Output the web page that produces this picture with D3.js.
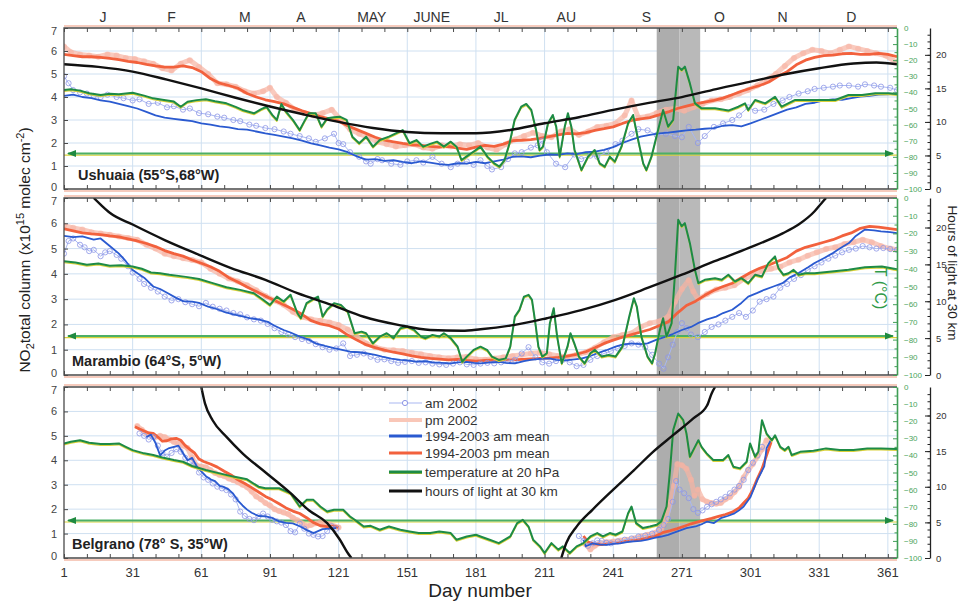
<!DOCTYPE html>
<html>
<head>
<meta charset="utf-8">
<script src="https://cdn.jsdelivr.net/npm/d3@7"></script>
<style>
  body { margin: 0; background: #fff; }
  svg { display: block; font-family: "Liberation Sans", Arial, Helvetica, sans-serif; }
</style>
</head>
<body>
<svg id="chart" width="962" height="601"></svg>
<script>
// ---------------- axis values ----------------
const dayTicks = [1, 31, 61, 91, 121, 151, 181, 211, 241, 271, 301, 331, 361];
const monthNames = ["J", "F", "M", "A", "MAY", "JUNE", "JL", "AU", "S", "O", "N", "D"];
const monthDays = [18, 48, 80, 104.5, 135.5, 161.7, 192, 220.5, 255.5, 287.4, 315, 345];
const no2Ticks = [0, 1, 2, 3, 4, 5, 6, 7];
const tempTicks = [0, -10, -20, -30, -40, -50, -60, -70, -80, -90, -100];
const hourTicks = [0, 5, 10, 15, 20];
const tempThreshold = -78;          // °C, PSC formation threshold
const shadedDays = [260, 270, 279]; // shaded period (two tones)

// ---------------- Ushuaia ----------------
const ushuaiaAm2002 = [[1,4.9],[3,4.6],[5,4.3],[8,4.2],[11,4.15],[14,4.05],[17,4.0],[20,4.1],[24,4.0],[27,3.95],[31,3.85],[34,3.9],[38,3.7],[42,3.75],[46,3.55],[49,3.6],[53,3.45],[56,3.5],[60,3.3],[64,3.25],[68,3.15],[71,3.1],[75,3.0],[78,2.95],[82,2.8],[85,2.75],[89,2.65],[93,2.6],[97,2.5],[100,2.4],[104,2.3],[108,2.2],[111,2.05],[115,2.2],[119,2.4],[121,2.0],[123,1.95],[126,1.6],[130,1.4],[133,1.2],[135,1.1],[138,1.3],[140,1.25],[144,1.1],[148,1.05],[151,1.2],[155,1.25],[158,1.15],[162,1.4],[166,1.1],[170,0.95],[173,1.1],[177,1.2],[180,1.05],[183,1.25],[186,1.0],[188,0.85],[192,0.95],[195,1.3],[198,1.55],[201,1.6],[205,1.8],[208,1.9],[210,2.1],[212,1.6],[216,1.1],[220,0.95],[224,1.5],[227,1.3],[231,1.45],[234,1.4],[238,1.6],[242,1.95],[245,2.1],[249,2.4],[252,2.6],[256,2.55],[260,2.35],[264,2.4],[268,2.3],[271,2.25],[274,2.7],[278,2.0],[281,2.3],[285,2.7],[289,2.85],[293,3.0],[296,3.2],[300,3.55],[303,3.4],[307,3.45],[311,3.7],[315,3.85],[318,4.0],[322,4.15],[326,4.25],[329,4.35],[333,4.4],[337,4.45],[340,4.5],[344,4.5],[348,4.45],[351,4.55],[355,4.5],[358,4.45],[362,4.4],[365,4.3]];
const ushuaiaPm2002 = [[1,6.2],[4,5.95],[8,5.85],[12,5.8],[16,5.75],[20,5.85],[24,5.8],[28,5.7],[32,5.65],[36,5.55],[40,5.45],[44,5.25],[48,5.15],[52,5.45],[56,5.6],[60,5.3],[64,5.0],[68,4.6],[72,4.55],[76,4.45],[80,4.25],[84,4.15],[88,4.25],[91,4.4],[94,4.0],[98,3.75],[102,3.45],[106,3.3],[110,3.2],[114,3.3],[118,3.45],[122,3.0],[126,2.6],[130,2.4],[134,2.25],[138,2.05],[142,1.95],[146,1.85],[150,1.9],[154,1.95],[158,1.8],[162,1.75],[166,1.9],[170,1.85],[174,1.95],[178,1.9],[182,2.0],[186,1.8],[190,1.7],[194,1.95],[198,2.15],[202,2.3],[206,2.45],[210,2.3],[214,2.25],[218,2.5],[222,2.6],[226,2.35],[230,2.5],[234,2.7],[238,2.75],[242,2.85],[246,3.2],[249,3.85],[252,3.1],[256,3.15],[260,3.3],[264,3.45],[268,3.5],[272,3.4],[276,3.55],[280,3.7],[284,3.85],[288,3.9],[292,4.0],[296,4.15],[300,4.3],[304,4.5],[308,4.75],[312,5.0],[316,5.35],[320,5.7],[324,5.9],[328,6.05],[332,6.0],[336,5.9],[340,6.05],[344,6.2],[348,6.1],[352,6.0],[356,5.9],[360,5.8],[365,5.5]];
const ushuaiaAmMean = [[1,4.05],[5,4.1],[9,4.0],[13,3.95],[17,3.85],[21,3.8],[25,3.7],[29,3.6],[33,3.5],[37,3.35],[41,3.2],[45,3.1],[49,3.05],[53,3.0],[57,2.95],[61,2.85],[65,2.8],[69,2.72],[73,2.68],[77,2.6],[81,2.58],[85,2.5],[89,2.42],[93,2.35],[97,2.28],[101,2.2],[105,2.1],[109,1.98],[113,1.9],[117,1.8],[121,1.72],[125,1.6],[129,1.42],[133,1.28],[137,1.3],[141,1.22],[145,1.25],[149,1.18],[153,1.12],[157,1.2],[161,1.15],[165,1.08],[169,1.05],[173,1.12],[177,1.1],[181,1.18],[185,1.12],[189,1.2],[193,1.28],[197,1.4],[201,1.42],[205,1.38],[209,1.45],[213,1.5],[217,1.48],[221,1.55],[225,1.52],[229,1.6],[233,1.62],[237,1.7],[241,1.82],[245,2.0],[249,2.15],[253,2.28],[257,2.35],[261,2.42],[265,2.45],[269,2.5],[273,2.55],[277,2.58],[281,2.62],[285,2.65],[289,2.75],[293,2.78],[297,2.72],[301,2.85],[305,3.0],[309,3.15],[313,3.3],[317,3.45],[321,3.55],[325,3.7],[329,3.75],[333,3.85],[337,3.9],[341,3.88],[345,3.95],[349,4.02],[353,4.05],[357,4.1],[361,4.12],[365,4.15]];
const ushuaiaPmMean = [[1,5.85],[5,5.8],[9,5.75],[13,5.75],[17,5.72],[21,5.68],[25,5.62],[29,5.55],[33,5.5],[37,5.42],[41,5.35],[45,5.3],[49,5.3],[53,5.35],[57,5.28],[61,5.1],[65,4.8],[69,4.6],[73,4.5],[77,4.38],[81,4.15],[85,4.0],[89,3.88],[93,3.8],[97,3.7],[101,3.55],[105,3.4],[109,3.28],[113,3.15],[117,3.05],[121,2.95],[125,2.75],[129,2.58],[133,2.42],[137,2.25],[141,2.12],[145,2.05],[149,1.98],[153,1.92],[157,1.9],[161,1.85],[165,1.82],[169,1.85],[173,1.78],[177,1.72],[181,1.82],[185,1.9],[189,1.85],[193,1.95],[197,2.1],[201,2.12],[205,2.15],[209,2.2],[213,2.28],[217,2.35],[221,2.42],[225,2.4],[229,2.45],[233,2.55],[237,2.62],[241,2.7],[245,2.85],[249,2.98],[253,3.05],[257,3.1],[261,3.22],[265,3.35],[269,3.5],[273,3.6],[277,3.7],[281,3.78],[285,3.85],[289,3.95],[293,4.1],[297,4.25],[301,4.38],[305,4.5],[309,4.65],[313,4.9],[317,5.1],[321,5.4],[325,5.6],[329,5.72],[333,5.8],[337,5.82],[341,5.88],[345,5.9],[349,5.85],[353,5.85],[357,5.9],[361,5.85],[365,5.75]];
const ushuaiaTemp = [[1,-38.5],[4,-38],[8,-38.9],[12,-40.5],[17,-41.6],[21,-40.8],[25,-41.2],[31,-40.2],[36,-42],[40,-43.7],[44,-44.5],[49,-45.7],[52,-48.9],[55,-45.8],[59,-44.8],[63,-44.3],[67,-45.5],[72,-46.8],[76,-49],[79,-50.9],[84,-53],[87,-50.5],[89.5,-48.9],[92,-54],[94,-57.1],[96,-47.2],[98,-52],[101,-57.1],[104,-63.4],[106,-58],[108,-53],[111,-53],[113.5,-61.3],[116,-56.1],[119,-55.5],[121.5,-55.1],[124.5,-57.1],[127,-67.5],[130,-71.6],[133,-67.5],[136,-73.7],[139,-69.6],[143,-67.5],[146,-65.4],[149,-63.4],[152,-71.6],[155,-69.6],[158,-73.7],[161,-72],[164,-70.6],[167,-73.7],[170,-70.6],[172.5,-73.7],[174.7,-82],[176.8,-79.9],[180,-76.8],[183,-73.7],[186,-79.9],[189,-84.1],[191.3,-86.1],[193.5,-82],[195.7,-71.6],[197.9,-57.1],[200.8,-48.9],[203,-47.2],[205.2,-50.9],[207.3,-63.4],[208.8,-75.8],[210.3,-73.7],[212.5,-59.2],[214.6,-54],[216.1,-61.3],[217.6,-79.9],[219.8,-61.3],[221.2,-53],[222.7,-61.3],[224.1,-75.8],[227.1,-88.2],[230,-79.9],[232.9,-75.8],[235.1,-84.1],[237.3,-86.1],[239.5,-79.9],[241.7,-83],[244.6,-73.7],[247.5,-59.2],[249.7,-54],[251.9,-69.6],[254.1,-84.1],[255.5,-88.2],[257.7,-79.9],[260.6,-63.4],[262.8,-50.9],[265,-61.3],[267.2,-57.1],[269.4,-24],[270.9,-26.1],[272.3,-24],[274.5,-34.4],[276.7,-46.8],[279.6,-49.9],[285.5,-49.9],[291.3,-51.3],[295.7,-48.9],[298.6,-46.8],[300,-50.9],[303,-44.7],[307.4,-46.8],[311.7,-42.7],[314.6,-48.9],[320.5,-44.7],[326.3,-44.7],[332.2,-44.7],[338,-44.7],[343.8,-41.6],[349.7,-41.6],[355.5,-40.6],[361.4,-40.6],[365,-41]];
const ushuaiaHours = [[1,18.6],[16,18.2],[31,17.5],[46,16.3],[61,15.0],[76,13.6],[91,12.3],[106,11.1],[121,10.0],[136,9.1],[151,8.5],[166,8.3],[181,8.3],[196,8.8],[211,9.8],[226,10.7],[241,11.8],[256,12.8],[271,13.7],[286,14.9],[301,16.0],[316,17.1],[331,18.0],[346,18.7],[356,18.85],[365,18.6]];

// ---------------- Marambio ----------------
const marambioAm2002 = [[1,4.8],[3,5.3],[5,5.4],[8,5.15],[10,5.05],[12,4.9],[14,4.95],[17,4.7],[19,4.85],[21,4.9],[24,4.75],[26,4.6],[29,4.3],[31,4.05],[34,3.8],[36,3.6],[39,3.45],[42,3.3],[45,3.1],[48,2.95],[51,3.0],[54,2.88],[57,2.8],[60,2.72],[63,2.85],[66,2.7],[69,2.62],[72,2.55],[75,2.45],[78,2.4],[81,2.28],[84,2.2],[87,2.15],[90,2.02],[93,1.85],[96,1.7],[99,1.6],[102,1.5],[105,1.42],[108,1.35],[111,1.22],[114,1.1],[117,1.0],[120,1.05],[123,1.25],[126,0.75],[129,0.8],[132,0.85],[135,0.72],[138,0.6],[141,0.62],[144,0.55],[147,0.48],[150,0.52],[153,0.55],[156,0.48],[159,0.5],[162,0.45],[165,0.42],[168,0.4],[171,0.45],[174,0.5],[177,0.42],[180,0.4],[183,0.45],[186,0.48],[189,0.46],[192,0.5],[195,0.55],[198,0.6],[201,0.85],[204,1.1],[207,0.7],[210,0.5],[213,0.45],[216,0.55],[219,0.6],[222,0.5],[225,0.35],[228,0.4],[231,0.6],[234,0.75],[237,0.85],[240,0.95],[243,1.05],[246,1.15],[249,1.25],[252,1.2],[255,1.1],[258,0.8],[261,0.45],[263,0.25],[265,0.7],[267,1.2],[269,1.7],[271,2.05],[273,1.85],[275,1.6],[278,1.5],[281,1.7],[284,1.9],[287,2.0],[290,2.15],[293,2.3],[296,2.45],[299,2.3],[302,2.55],[305,2.9],[308,3.0],[311,3.1],[314,3.45],[317,3.6],[320,3.8],[323,3.95],[326,4.15],[329,4.3],[332,4.45],[335,4.6],[338,4.72],[341,4.85],[344,4.95],[347,5.0],[350,5.1],[353,5.05],[356,5.0],[359,5.02],[362,4.98],[365,4.95]];
const marambioPm2002 = [[1,5.9],[5,5.82],[9,5.75],[13,5.65],[17,5.6],[21,5.55],[25,5.48],[29,5.42],[33,5.35],[37,5.15],[41,5.0],[45,4.8],[49,4.7],[53,4.62],[57,4.55],[61,4.45],[65,4.2],[69,4.0],[73,3.82],[77,3.7],[81,3.55],[85,3.35],[89,3.12],[93,2.95],[97,2.78],[101,2.5],[105,2.3],[109,2.2],[113,2.15],[117,2.08],[121,1.98],[125,1.8],[129,1.5],[133,1.25],[137,1.1],[141,1.0],[145,0.98],[149,0.95],[153,0.88],[157,0.82],[161,0.75],[165,0.7],[169,0.66],[173,0.7],[177,0.72],[181,0.62],[185,0.6],[189,0.65],[193,0.7],[197,0.75],[201,0.8],[205,0.85],[209,0.88],[213,0.82],[217,0.75],[221,0.72],[225,0.8],[229,0.9],[233,1.08],[237,1.3],[241,1.5],[245,1.58],[249,1.65],[253,1.9],[257,2.05],[261,2.12],[265,2.3],[268,2.9],[271,3.4],[274,3.75],[276,3.3],[278,3.0],[282,3.2],[286,3.38],[290,3.45],[294,3.55],[298,3.8],[302,3.95],[306,4.12],[310,4.2],[314,4.28],[318,4.45],[322,4.56],[326,4.72],[330,4.85],[334,4.98],[338,5.05],[342,5.18],[346,5.25],[350,5.35],[354,5.25],[358,5.1],[362,5.0],[365,4.95]];
const marambioAmMean = [[1,5.5],[5,5.45],[9,5.48],[14,5.35],[17,5.4],[21,5.1],[25,4.8],[28,4.5],[31,4.15],[36,3.85],[40,3.5],[43,3.4],[46,3.25],[50,3.05],[53,2.92],[57,2.9],[60,2.85],[64,2.7],[68,2.6],[71,2.5],[75,2.4],[79,2.32],[82,2.25],[86,2.2],[90,2.1],[93,1.95],[97,1.78],[100,1.68],[104,1.52],[108,1.4],[111,1.25],[115,1.15],[119,1.06],[122,1.0],[126,0.92],[130,0.9],[133,0.86],[137,0.8],[140,0.73],[144,0.65],[148,0.6],[151,0.58],[155,0.53],[159,0.55],[162,0.5],[166,0.48],[170,0.46],[173,0.5],[177,0.52],[180,0.48],[183,0.46],[187,0.5],[191,0.52],[194,0.48],[198,0.46],[202,0.55],[205,0.6],[209,0.64],[213,0.66],[216,0.6],[220,0.58],[224,0.62],[227,0.65],[231,0.75],[234,0.86],[238,0.98],[242,1.12],[245,1.2],[249,1.25],[253,1.22],[256,1.25],[260,1.4],[264,1.52],[267,1.62],[271,1.78],[275,1.9],[278,2.05],[282,2.2],[286,2.31],[289,2.45],[293,2.58],[297,2.85],[300,3.1],[304,3.25],[307,3.37],[311,3.5],[315,3.63],[318,3.85],[322,4.03],[326,4.25],[329,4.43],[333,4.62],[337,4.82],[340,5.0],[344,5.22],[347,5.5],[351,5.75],[355,5.72],[358,5.68],[362,5.65],[365,5.61]];
const marambioPmMean = [[1,5.78],[5,5.7],[9,5.62],[13,5.58],[17,5.55],[21,5.5],[25,5.46],[29,5.38],[33,5.3],[37,5.2],[41,5.08],[45,4.92],[49,4.8],[53,4.7],[57,4.55],[61,4.42],[65,4.28],[69,4.1],[73,3.85],[77,3.68],[81,3.48],[85,3.3],[89,3.12],[93,2.95],[97,2.78],[101,2.6],[105,2.4],[109,2.15],[113,2.02],[117,1.95],[121,1.82],[125,1.58],[129,1.38],[133,1.2],[137,1.08],[141,0.98],[145,0.9],[149,0.84],[153,0.76],[157,0.7],[161,0.66],[165,0.63],[169,0.6],[173,0.62],[177,0.58],[181,0.55],[185,0.58],[189,0.6],[193,0.58],[197,0.6],[201,0.62],[205,0.64],[209,0.66],[213,0.67],[217,0.7],[221,0.75],[225,0.82],[229,0.92],[233,1.08],[237,1.25],[241,1.38],[245,1.5],[249,1.6],[253,1.7],[257,1.8],[261,1.95],[265,2.1],[269,2.45],[273,2.75],[277,2.92],[281,3.15],[285,3.35],[289,3.5],[293,3.63],[297,3.85],[301,4.05],[305,4.22],[309,4.35],[313,4.5],[317,4.65],[321,4.9],[325,5.05],[329,5.15],[333,5.25],[337,5.35],[341,5.5],[345,5.62],[349,5.8],[353,5.88],[357,5.85],[361,5.8],[365,5.75]];
const marambioTemp = [[1,-35.8],[6,-36.5],[11,-37.7],[16,-37],[21,-38.3],[26,-38],[31,-38.7],[35,-40],[39,-42.1],[43,-42.5],[47,-43.4],[51,-44],[55,-44.7],[60,-45.8],[66,-48.1],[72,-50.4],[78,-51.9],[84,-53.8],[88,-57.5],[91,-60.4],[94,-55.7],[97,-58.5],[100,-54.7],[103,-65.1],[104.5,-67.9],[107,-59.4],[110,-57],[112,-55.7],[114,-67],[116,-63],[119,-59.4],[122,-60.4],[125,-64.2],[128,-76.4],[131,-75.5],[133,-76.4],[136,-82.1],[139,-78.3],[142,-76.4],[145,-79.2],[148,-73.6],[151,-72.6],[154,-74.5],[157,-78.3],[159,-79.2],[162,-77.4],[165,-78.3],[167,-76.4],[170,-79.2],[173,-84],[175,-92.5],[177,-89.6],[180,-85.8],[183,-84],[186,-86],[188,-89.6],[191,-91.5],[194,-90.6],[196,-84],[198,-67],[200,-63.2],[202,-55.7],[204,-54.7],[205.5,-57.5],[207,-70.8],[208.3,-84],[210,-89.6],[212,-87.7],[213.3,-70.8],[215,-62.3],[216.5,-78.3],[218.5,-93.4],[221,-84],[222.3,-76.4],[224,-82.1],[226,-89.6],[228.5,-93.4],[231,-87.7],[233,-85.8],[236,-89.6],[239,-88.7],[242,-89.6],[245,-84],[248,-67],[250,-56.6],[251.3,-61.3],[253.3,-78.3],[256,-89.6],[258,-93.4],[259.3,-87.7],[261.4,-74.5],[262.8,-67.9],[264.3,-78.3],[266.5,-70.8],[268,-42.5],[269.4,-12.3],[270.9,-16],[272.3,-14.2],[274.5,-25.5],[276.7,-40.6],[278.2,-48.1],[281,-46.2],[285.5,-45.3],[288.4,-46.2],[291.3,-43.4],[294.2,-47.2],[297,-45.3],[300,-48.1],[303,-43.4],[306,-44.3],[308.8,-36.8],[311.7,-33],[313.2,-39.6],[315.4,-43.4],[317.6,-42.5],[319.8,-40.6],[322,-43.4],[325,-42.5],[329,-42.5],[336.5,-41.5],[343.8,-40.6],[351,-39.1],[358.4,-38.7],[365,-40.2]];
const marambioHours = [[14,24],[17,23.1],[21,22.0],[31,20.4],[45,18.3],[60,16.3],[74,14.5],[89,12.9],[103,11.1],[118,9.5],[132,7.9],[147,6.8],[161,6.1],[175,6.0],[183,6.2],[198,6.8],[212,7.7],[227,8.8],[242,10.2],[256,11.8],[271,13.6],[285,15.4],[300,17.2],[315,19.2],[322,20.4],[329,22.2],[332,23.3],[334,24]];

// ---------------- Belgrano (polar night splits the record) ----------------
const belgranoAm2002A = [[34,5.1],[36,5.0],[38,4.85],[40,4.95],[42,4.6],[44,4.3],[46,4.15],[48,4.3],[50,4.45],[52,4.35],[54,4.1],[56,3.95],[58,3.8],[60,3.5],[62,3.3],[64,3.2],[66,3.05],[68,2.92],[70,2.85],[72,2.78],[74,2.6],[76,2.4],[78,1.9],[80,1.72],[82,1.6],[84,1.55],[86,1.7],[88,1.82],[90,1.7],[92,1.56],[94,1.5],[96,1.45],[98,1.35],[100,1.1],[102,1.05],[104,1.4],[106,1.2],[108,1.0],[110,0.95],[112,0.88],[114,0.9],[116,1.1],[118,1.3],[120,1.2]];
const belgranoAm2002B = [[226,0.9],[228,0.7],[230,0.5],[232,0.6],[234,0.72],[236,0.7],[238,0.62],[240,0.6],[243,0.68],[246,0.75],[249,0.8],[252,0.88],[255,0.92],[258,1.0],[261,1.15],[263,1.35],[265,1.6],[267,2.3],[268.5,3.15],[270,2.8],[272,2.65],[274,2.45],[276,2.0],[278,1.85],[280,1.95],[282,2.1],[284,2.2],[286,2.3],[288,2.4],[290,2.5],[292,2.65],[294,2.8],[296,2.95],[298,3.2],[300,3.6],[302,3.9],[304,4.2],[306,4.55]];
const belgranoPm2002A = [[33,5.4],[35,5.25],[37,5.1],[39,5.05],[41,4.95],[43,5.0],[45,4.95],[47,4.85],[49,4.75],[51,4.68],[53,4.6],[55,4.5],[57,4.1],[59,3.78],[61,3.75],[63,3.72],[65,3.6],[67,3.48],[69,3.4],[71,3.35],[73,3.25],[75,3.18],[77,3.1],[79,3.0],[81,2.9],[83,2.72],[85,2.52],[87,2.4],[89,2.25],[91,2.15],[93,2.0],[95,1.92],[97,1.86],[99,1.8],[101,1.65],[103,1.55],[105,1.42],[107,1.3],[109,1.35],[111,1.42],[113,1.45],[115,1.42],[117,1.38],[119,1.3],[121,1.25]];
const belgranoPm2002B = [[229,0.55],[231,0.35],[233,0.5],[235,0.6],[238,0.65],[241,0.68],[244,0.72],[247,0.75],[250,0.8],[253,0.88],[256,0.95],[259,1.02],[262,1.2],[264,1.55],[266,2.3],[267.5,2.95],[269,3.85],[271,3.8],[273,3.65],[275,3.2],[276.5,2.55],[278,2.8],[280,2.4],[282,2.3],[284,2.25],[286,2.22],[288,2.25],[290,2.4],[292,2.5],[294,2.7],[296,2.92],[298,3.3],[300,3.6],[302,3.85],[304,4.15],[306,4.45],[308,4.82]];
const belgranoAmMeanA = [[37,4.95],[39,5.05],[41,4.7],[43,4.2],[45,4.4],[47,4.5],[49,4.55],[51,4.6],[53,4.3],[55,4.0],[57,4.1],[59,3.75],[61,3.55],[63,3.35],[65,3.22],[67,3.15],[69,2.95],[71,2.9],[73,2.8],[75,2.62],[77,2.35],[79,2.15],[81,1.98],[83,1.85],[86,1.72],[89,1.7],[92,1.64],[95,1.5],[98,1.44],[101,1.42],[104,1.3],[107,1.15],[110,1.02],[112,1.1],[114,1.18],[117,1.2],[120,1.22]];
const belgranoAmMeanB = [[228,0.75],[229,0.48],[232,0.6],[235,0.55],[238,0.54],[241,0.58],[244,0.6],[247,0.65],[250,0.68],[253,0.7],[256,0.75],[259,0.82],[262,0.88],[265,0.95],[267,1.02],[270,1.12],[273,1.22],[277,1.29],[280,1.4],[282,1.49],[285,1.43],[288,1.63],[291,1.72],[294,1.83],[296,1.95],[298,2.11],[301,2.5],[304,3.2],[307,3.75],[308,4.5],[310,4.85]];
const belgranoPmMeanA = [[32,5.37],[34,5.28],[36,5.2],[38,5.12],[40,5.1],[42,4.95],[44,4.78],[46,4.8],[48,4.88],[50,4.9],[52,4.82],[54,4.6],[56,4.45],[58,4.3],[60,4.05],[62,3.95],[65,3.85],[68,3.72],[71,3.55],[74,3.4],[77,3.2],[80,3.05],[83,2.88],[86,2.7],[89,2.52],[92,2.38],[95,2.22],[98,2.05],[101,1.92],[104,1.82],[107,1.65],[110,1.45],[113,1.32],[116,1.28],[119,1.3],[121,1.25]];
const belgranoPmMeanB = [[228,0.9],[230,0.65],[233,0.58],[236,0.55],[239,0.6],[242,0.62],[245,0.66],[248,0.7],[251,0.72],[254,0.78],[257,0.85],[260,0.92],[263,1.05],[266,1.12],[269,1.2],[272,1.3],[275,1.4],[278,1.48],[281,1.55],[284,1.62],[287,1.7],[290,1.78],[293,1.88],[296,2.05],[298,2.25],[300,2.45],[302,2.8],[304,3.25],[306,3.65],[308,4.2],[310,4.75]];
const belgranoTemp = [[1,-33],[4,-32],[8,-31.1],[12,-32.6],[17,-33.4],[21,-33.4],[25,-33],[28,-35],[31,-36.9],[36,-38.8],[40,-39.8],[44,-41.2],[49,-42.7],[53,-43.7],[57,-46.2],[63,-48.5],[69,-50.5],[75,-52.4],[81,-54],[86,-58.3],[89,-59.2],[95,-59.2],[100,-62.1],[104,-69.9],[107,-66],[110,-66],[113,-69.9],[116,-72.8],[119,-71.8],[123,-71.8],[126,-75.7],[129,-78.6],[132,-81.6],[135,-81.2],[139,-83.5],[143,-81.6],[148,-83.5],[152,-84.5],[156,-85.4],[161,-85.4],[165,-84.5],[170,-85.4],[172.5,-89.3],[177,-87.4],[181,-86.4],[183,-87.4],[187,-89.3],[191,-91.3],[196,-87.4],[199,-79.6],[201.5,-77.7],[204,-81.6],[206,-89.3],[209,-93.2],[211,-97.1],[214,-91.3],[217,-95.1],[219,-93.2],[222,-97.1],[225,-93.2],[228,-91.3],[231,-87.4],[234,-85.4],[236.5,-87.4],[239.5,-85.4],[242,-86.4],[245,-84.5],[247.5,-73.8],[249,-69.9],[251,-79.6],[254,-82.5],[257,-81.6],[260,-80.6],[262,-78.6],[264.3,-69.9],[265.7,-50.5],[267.2,-25.2],[269.4,-15.5],[271.6,-19.4],[273,-27.2],[274.5,-40.8],[276.7,-35],[278.2,-31.1],[279.6,-35],[281.8,-38.8],[284.7,-42.7],[289,-42.7],[291.3,-39.8],[293.5,-46.6],[296.4,-47.6],[299.3,-43.7],[300.8,-33],[303,-40.8],[304.4,-37.9],[306,-19.4],[308,-27.2],[310.3,-31.1],[311.7,-28.2],[314,-35],[316,-36.9],[317.6,-35],[319,-39.8],[322.7,-37.9],[328.5,-37.3],[334,-35.9],[340,-36.9],[346,-36.9],[352,-35.9],[358,-35.9],[365,-36.3]];
const belgranoHoursA = [[61,24],[62.6,21.7],[66,19.3],[72,17.0],[79,14.7],[89.5,11.9],[100,9.1],[108,6.7],[116,4.9],[121.5,2.6],[125,0.7],[126.6,0]];
const belgranoHoursB = [[218.3,0],[220.5,2.1],[225,4.4],[232,6.8],[241,9.6],[250,12.3],[258.4,14.9],[267,17.2],[276,19.6],[282,21.4],[284,23.1],[285.5,24]];

const stations = [
  { label: "Ushuaia (55°S,68°W)", am2002: [ushuaiaAm2002], pm2002: [ushuaiaPm2002],
    amMean: [ushuaiaAmMean], pmMean: [ushuaiaPmMean], temp: ushuaiaTemp, hours: [ushuaiaHours] },
  { label: "Marambio (64°S, 5°W)", am2002: [marambioAm2002], pm2002: [marambioPm2002],
    amMean: [marambioAmMean], pmMean: [marambioPmMean], temp: marambioTemp, hours: [marambioHours] },
  { label: "Belgrano (78° S, 35°W)", am2002: [belgranoAm2002A, belgranoAm2002B], pm2002: [belgranoPm2002A, belgranoPm2002B],
    amMean: [belgranoAmMeanA, belgranoAmMeanB], pmMean: [belgranoPmMeanA, belgranoPmMeanB], temp: belgranoTemp, hours: [belgranoHoursA, belgranoHoursB] }
];

const legendItems = ["am 2002", "pm 2002", "1994-2003 am mean", "1994-2003 pm mean", "temperature at 20 hPa", "hours of light at 30 km"];

// ---------------- layout & styles ----------------
const panelBoxes = [{ top: 28, bottom: 189 }, { top: 198, bottom: 375 }, { top: 387, bottom: 558 }];
const left = 64, right = 897, hoursAxisX = 930;
const col = {
  grid: "#cfe0f1", frame: "#4a4a4a", glow: "#f6cbbd", band: "#b9b9b9", bandDark: "#adadad",
  am2002: "#8d96e6", am2002Line: "#a9b8f2", pm2002: "#f7b3a2", amMean: "#2a5ad0", pmMean: "#f2613d",
  temp: "#1d8b45", tempShadow: "#d9d13a", hours: "#111111", tempAxis: "#3f9d55", text: "#333"
};

const svg = d3.select("#chart");
const x = d3.scaleLinear().domain([1, 365]).range([left, right]);

// month names along the top
svg.append("g").selectAll("text").data(monthNames).join("text")
  .attr("x", (d, i) => x(monthDays[i])).attr("y", 22)
  .attr("text-anchor", "middle").attr("font-size", 14).attr("fill", col.text)
  .text(d => d);

stations.forEach((st, i) => {
  const box = panelBoxes[i];
  const yN = d3.scaleLinear().domain([0, 7]).range([box.bottom, box.top]);
  const yT = d3.scaleLinear().domain([-100, 0]).range([box.bottom, box.top]);
  const yH = d3.scaleLinear().domain([0, 24]).range([box.bottom, box.top]);
  const g = svg.append("g");

  const clipId = "clip" + i;
  svg.append("clipPath").attr("id", clipId).append("rect")
    .attr("x", left).attr("y", box.top).attr("width", right - left).attr("height", box.bottom - box.top);

  // light-blue grid
  const grid = g.append("g").attr("stroke", col.grid).attr("stroke-width", 1);
  grid.selectAll("line.v").data(dayTicks.slice(1)).join("line").attr("class", "v")
    .attr("x1", d => x(d)).attr("x2", d => x(d)).attr("y1", box.top).attr("y2", box.bottom);
  grid.selectAll("line.h").data(no2Ticks.slice(1, -1)).join("line").attr("class", "h")
    .attr("x1", left).attr("x2", right).attr("y1", d => yN(d)).attr("y2", d => yN(d));

  // shaded period
  g.append("rect").attr("x", x(shadedDays[0])).attr("width", x(shadedDays[1]) - x(shadedDays[0]))
    .attr("y", box.top).attr("height", box.bottom - box.top).attr("fill", col.bandDark);
  g.append("rect").attr("x", x(shadedDays[1])).attr("width", x(shadedDays[2]) - x(shadedDays[1]))
    .attr("y", box.top).attr("height", box.bottom - box.top).attr("fill", col.band);

  const plot = g.append("g").attr("clip-path", `url(#${clipId})`);

  // -78 °C threshold with arrow heads
  const yt = yT(tempThreshold);
  plot.append("line").attr("x1", left).attr("x2", right).attr("y1", yt + 1.6).attr("y2", yt + 1.6)
    .attr("stroke", col.tempShadow).attr("stroke-width", 1.2);
  plot.append("line").attr("x1", left + 4).attr("x2", right - 4).attr("y1", yt).attr("y2", yt)
    .attr("stroke", "#4caf66").attr("stroke-width", 2);
  plot.append("path").attr("d", `M${left + 3},${yt} l9,-3.5 l0,7 Z`).attr("fill", "#1f8a40");
  plot.append("path").attr("d", `M${right - 3},${yt} l-9,-3.5 l0,7 Z`).attr("fill", "#1f8a40");

  const lineN = d3.line().x(d => x(d[0])).y(d => yN(d[1]));
  const lineT = d3.line().x(d => x(d[0])).y(d => yT(d[1]));
  const lineH = d3.line().x(d => x(d[0])).y(d => yH(d[1])).curve(d3.curveMonotoneX);

  // pm 2002: broad translucent band of markers
  st.pm2002.forEach(seg => {
    plot.append("path").attr("d", lineN(seg)).attr("fill", "none")
      .attr("stroke", col.pm2002).attr("stroke-width", 5).attr("stroke-opacity", 0.7)
      .attr("stroke-linejoin", "round").attr("stroke-linecap", "round");
    plot.append("g").selectAll("circle").data(seg).join("circle")
      .attr("cx", d => x(d[0])).attr("cy", d => yN(d[1])).attr("r", 3)
      .attr("fill", col.pm2002).attr("fill-opacity", 0.55);
  });
  // pm mean
  st.pmMean.forEach(seg => {
    plot.append("path").attr("d", lineN(seg)).attr("fill", "none")
      .attr("stroke", col.pmMean).attr("stroke-width", 2.8).attr("stroke-linejoin", "round");
  });
  // am 2002: open circles joined by a thin line
  st.am2002.forEach(seg => {
    plot.append("path").attr("d", lineN(seg)).attr("fill", "none")
      .attr("stroke", col.am2002Line).attr("stroke-width", 1);
    plot.append("g").selectAll("circle").data(seg).join("circle")
      .attr("cx", d => x(d[0])).attr("cy", d => yN(d[1])).attr("r", 2.6)
      .attr("fill", "none").attr("stroke", col.am2002).attr("stroke-width", 1).attr("stroke-opacity", 0.8);
  });
  // am mean
  st.amMean.forEach(seg => {
    plot.append("path").attr("d", lineN(seg)).attr("fill", "none")
      .attr("stroke", col.amMean).attr("stroke-width", 1.8).attr("stroke-linejoin", "round");
  });
  // temperature at 20 hPa
  plot.append("path").attr("d", lineT(st.temp)).attr("fill", "none").attr("transform", "translate(0,1.3)")
    .attr("stroke", col.tempShadow).attr("stroke-width", 1.4).attr("stroke-linejoin", "round");
  plot.append("path").attr("d", lineT(st.temp)).attr("fill", "none")
    .attr("stroke", col.temp).attr("stroke-width", 2).attr("stroke-linejoin", "round");
  // hours of light at 30 km
  st.hours.forEach(seg => {
    plot.append("path").attr("d", lineH(seg)).attr("fill", "none")
      .attr("stroke", col.hours).attr("stroke-width", 2.4);
  });

  // frame with a soft salmon edge above and below
  g.append("line").attr("x1", left).attr("x2", right).attr("y1", box.top - 2).attr("y2", box.top - 2)
    .attr("stroke", col.glow).attr("stroke-width", 2);
  g.append("line").attr("x1", left).attr("x2", right).attr("y1", box.bottom + 2).attr("y2", box.bottom + 2)
    .attr("stroke", col.glow).attr("stroke-width", 2);
  g.append("path").attr("d", `M${right},${box.top} H${left} V${box.bottom} H${right}`)
    .attr("fill", "none").attr("stroke", col.frame).attr("stroke-width", 1.3);

  // left NO2 axis
  const axL = g.append("g").attr("transform", `translate(${left},0)`)
    .call(d3.axisLeft(yN).tickValues(no2Ticks).tickSize(-4).tickPadding(7).tickFormat(d3.format("d")));
  axL.select(".domain").remove();
  axL.selectAll("line").attr("stroke", col.frame);
  axL.selectAll("text").attr("font-size", 11).attr("fill", "#444").attr("font-family", null);
  // keep the 0 of one panel and the 7 of the next apart
  axL.selectAll(".tick").filter(d => d === 0).select("text").attr("dy", "0.1em");
  axL.selectAll(".tick").filter(d => d === 7).select("text").attr("dy", "0.62em");

  // day ticks on top and bottom edges
  const minorDays = d3.range(1, 366, 10);
  [[d3.axisTop, box.top], [d3.axisBottom, box.bottom]].forEach(([axFn, yy]) => {
    const a = g.append("g").attr("transform", `translate(0,${yy})`)
      .call(axFn(x).tickValues(minorDays).tickSize(-4).tickFormat(""));
    a.select(".domain").remove();
    a.selectAll("line").attr("stroke", col.frame);
  });

  // right temperature axis
  const axT = g.append("g").attr("transform", `translate(${right},0)`)
    .call(d3.axisRight(yT).tickValues(tempTicks).tickSize(-4).tickSizeOuter(0).tickPadding(7));
  axT.select(".domain").attr("stroke", col.tempAxis).attr("stroke-width", 1.6);
  axT.selectAll("line").attr("stroke", col.tempAxis);
  axT.selectAll("text").attr("font-size", 8).attr("fill", "#4aa45c").attr("font-family", null);
  const axTm = g.append("g").attr("transform", `translate(${right},0)`)
    .call(d3.axisRight(yT).tickValues(d3.range(-95, 0, 10)).tickSize(-2.5).tickFormat(""));
  axTm.select(".domain").remove();
  axTm.selectAll("line").attr("stroke", col.tempAxis);

  // hours of light axis
  const axH = g.append("g").attr("transform", `translate(${hoursAxisX},0)`)
    .call(d3.axisRight(yH).tickValues(hourTicks).tickSize(-5).tickSizeOuter(0).tickPadding(6));
  axH.select(".domain").attr("stroke", "#222").attr("stroke-width", 1.3);
  axH.selectAll("line").attr("stroke", "#222");
  axH.selectAll("text").attr("font-size", 9.5).attr("fill", "#333").attr("font-family", null);
  const axHm = g.append("g").attr("transform", `translate(${hoursAxisX},0)`)
    .call(d3.axisRight(yH).tickValues(d3.range(1, 24)).tickSize(-2.5).tickFormat(""));
  axHm.select(".domain").remove();
  axHm.selectAll("line").attr("stroke", "#222");

  // station name
  g.append("text").attr("x", i === 0 ? 78 : 72).attr("y", box.bottom - 9)
    .attr("font-size", 14.5).attr("font-weight", "bold").attr("fill", "#222").text(st.label);

  if (i === 2) {
    // bottom day-number labels
    g.append("g").selectAll("text").data(dayTicks).join("text")
      .attr("x", d => x(d)).attr("y", 577).attr("text-anchor", "middle")
      .attr("font-size", 13).attr("fill", col.text).text(d => d);
    // legend
    const lg = g.append("g");
    const rowY = [403, 420, 436, 453, 472, 491];
    legendItems.forEach((name, k) => {
      const yy = rowY[k];
      if (k === 0) {
        lg.append("line").attr("x1", 389).attr("x2", 422).attr("y1", yy).attr("y2", yy)
          .attr("stroke", col.am2002Line).attr("stroke-width", 1.2);
        lg.append("circle").attr("cx", 405).attr("cy", yy).attr("r", 2.6)
          .attr("fill", "#fff").attr("stroke", col.am2002).attr("stroke-width", 1);
      } else if (k === 1) {
        lg.append("line").attr("x1", 389).attr("x2", 422).attr("y1", yy).attr("y2", yy)
          .attr("stroke", "#f9c7b8").attr("stroke-width", 4);
      } else if (k === 4) {
        lg.append("line").attr("x1", 389).attr("x2", 422).attr("y1", yy + 1.5).attr("y2", yy + 1.5)
          .attr("stroke", col.tempShadow).attr("stroke-width", 1.2);
        lg.append("line").attr("x1", 389).attr("x2", 422).attr("y1", yy).attr("y2", yy)
          .attr("stroke", col.temp).attr("stroke-width", 3);
      } else {
        const c = k === 2 ? col.amMean : k === 3 ? col.pmMean : col.hours;
        lg.append("line").attr("x1", 389).attr("x2", 422).attr("y1", yy).attr("y2", yy)
          .attr("stroke", c).attr("stroke-width", 3);
      }
      lg.append("text").attr("x", 425).attr("y", yy + 4.5).attr("font-size", 13.5)
        .attr("fill", col.text).text(name);
    });
  }

  if (i === 1) {
    svg.append("text").attr("transform", `translate(875,288) rotate(90)`)
      .attr("text-anchor", "middle").attr("font-size", 16).attr("fill", "#2f9a48").text("T (°C)");
  }
});

// axis titles
svg.append("text").attr("transform", "translate(948,273) rotate(90)")
  .attr("text-anchor", "middle").attr("font-size", 13.5).attr("fill", "#222").text("Hours of light at 30 km");

svg.append("text").attr("x", 480).attr("y", 597).attr("text-anchor", "middle")
  .attr("font-size", 19).attr("fill", "#222").text("Day number");

const yTitle = svg.append("text").attr("transform", "translate(30,250) rotate(-90)")
  .attr("text-anchor", "middle").attr("font-size", 15.5).attr("fill", "#222");
yTitle.append("tspan").text("NO");
yTitle.append("tspan").attr("font-size", 11).attr("dy", 4).text("2");
yTitle.append("tspan").attr("dy", -4).text("total column (x10");
yTitle.append("tspan").attr("font-size", 11).attr("dy", -6).text("15");
yTitle.append("tspan").attr("dy", 6).text(" molec cm");
yTitle.append("tspan").attr("font-size", 11).attr("dy", -6).text("-2");
yTitle.append("tspan").attr("dy", 6).text(")");
</script>
</body>
</html>
